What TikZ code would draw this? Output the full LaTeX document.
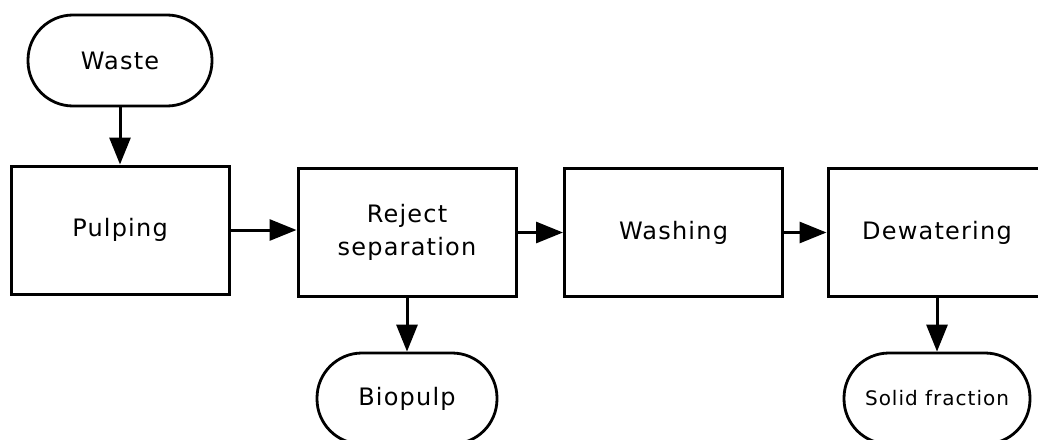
\documentclass[tikz,border=0pt]{standalone}
\usepackage{fontspec}
\setmainfont{DejaVu Sans}[LetterSpace=5]
\usetikzlibrary{arrows.meta}

\begin{document}
\begin{tikzpicture}[x=1pt, y=1pt,
    >={Triangle[length=27pt, width=21pt]},
    step_box/.style={
        draw, line width=3pt, rectangle,
        minimum width=218pt, minimum height=128pt,
        inner sep=0pt, align=center,
        font=\fontsize{24}{33}\selectfont
    },
    terminal/.style={
        draw, line width=2.8pt, rectangle, rounded corners=45pt,
        minimum width=184pt, minimum height=91pt,
        inner sep=0pt, font=\fontsize{24}{30}\selectfont
    },
    flow/.style={->, line width=3pt},
]

% --- Marco ---
\useasboundingbox (0,0) rectangle (1038,-439);

% --- Coordenadas ---
\def\xa{120}
\def\xb{407}
\def\xc{673.5}
\def\xd{937}

\def\ytop{-60.5}
\def\ymid{-232.5}
\def\ylow{-398.5}

% --- Entrada ---
\node[terminal] (waste) at (\xa, \ytop) {Waste};

% --- Etapas del proceso ---
\node[step_box] (pulping)    at (\xa, -230)  {Pulping};
\node[step_box] (reject)     at (\xb, \ymid) {Reject\\separation};
\node[step_box] (washing)    at (\xc, \ymid) {Washing};
\node[step_box] (dewatering) at (\xd, \ymid) {Dewatering};

% --- Salidas ---
\node[terminal, minimum width=180pt] (biopulp) at (\xb, \ylow) {Biopulp};
\node[terminal, minimum width=186pt, font=\fontsize{20}{24}\selectfont]
    (solid) at (\xd, \ylow) {Solid fraction};

% --- Flujos ---
\draw[flow] (waste.south) -- (pulping.north);
\draw[flow] (pulping.east) -- (pulping.east -| reject.west);
\draw[flow] (reject.east) -- (washing.west);
\draw[flow] (washing.east) -- (dewatering.west);
\draw[flow] (reject.south) -- (biopulp.north);
\draw[flow] (dewatering.south) -- (solid.north);

\end{tikzpicture}
\end{document}
